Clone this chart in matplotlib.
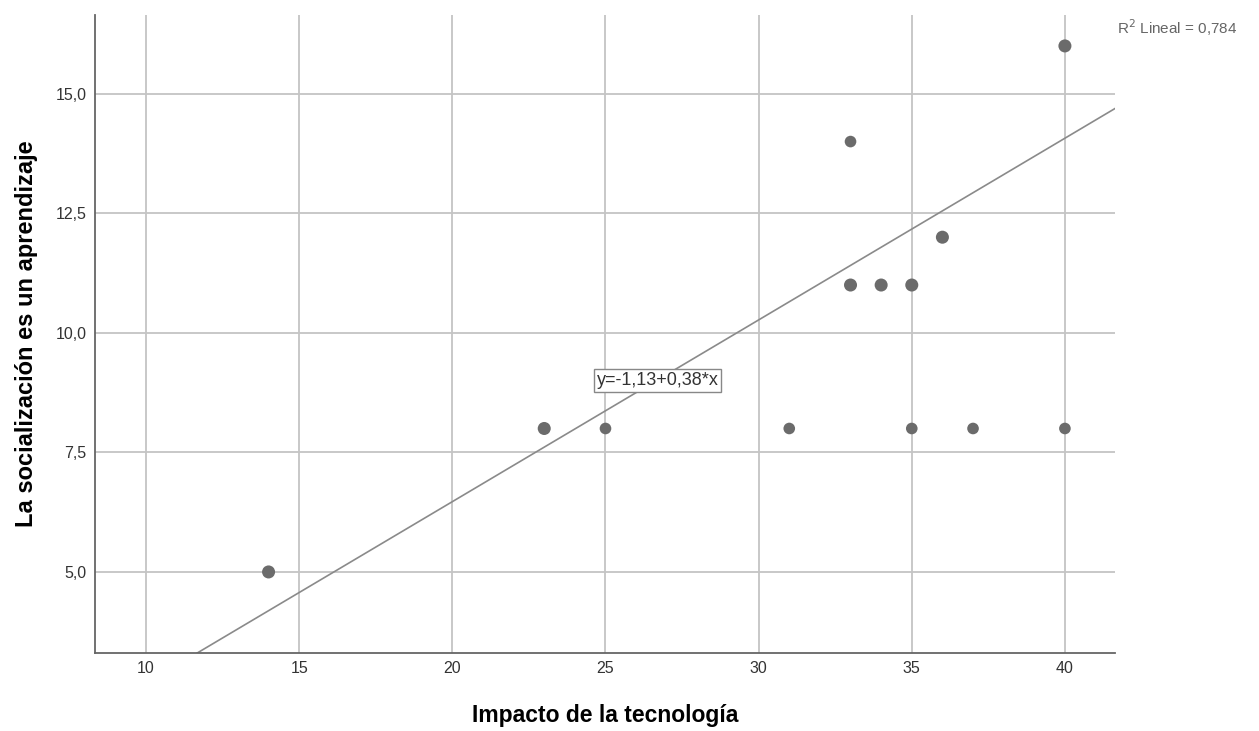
import numpy as np
import matplotlib.pyplot as plt

plt.rcParams['font.family'] = ['Liberation Sans', 'DejaVu Sans']

# observations (impacto, socializacion) and how many cases share each point
impacto = [14, 23, 25, 31, 33, 33, 34, 35, 35, 36, 37, 40, 40]
socializacion = [5, 8, 8, 8, 14, 11, 11, 11, 8, 12, 8, 8, 16]
casos = [2, 2, 1, 1, 1, 2, 2, 2, 1, 2, 1, 1, 2]

intercept = -1.13
slope = 0.38
r2 = 0.784

xticks = [10, 15, 20, 25, 30, 35, 40]
yticks = [5.0, 7.5, 10.0, 12.5, 15.0]

fig = plt.figure(figsize=(12.59, 7.31), dpi=100)
ax = fig.add_axes([0.0755, 0.1067, 0.81, 0.873])

xlim = (8.335, 41.63)
ylim = (3.305, 16.65)
ax.set_xlim(*xlim)
ax.set_ylim(*ylim)

grid_c = '#c4c4c4'
ax.set_xticks(xticks)
ax.set_yticks(yticks)
ax.set_yticklabels([f'{v:.1f}'.replace('.', ',') for v in yticks])
ax.grid(True, color=grid_c, linewidth=1.3)
ax.set_axisbelow(True)
ax.tick_params(length=0, labelsize=11.5, labelcolor='#333333', pad=6)

for s in ['top', 'right']:
    ax.spines[s].set_visible(False)
for s in ['left', 'bottom']:
    ax.spines[s].set_color('#666666')
    ax.spines[s].set_linewidth(1.3)

sizes = [70 if c == 1 else 88 for c in casos]
ax.scatter(impacto, socializacion, s=sizes, color='#6b6b6b', zorder=3,
           linewidths=0)

xx = np.array(xlim)
ax.plot(xx, intercept + slope * xx, color='#8a8a8a', linewidth=1.2, zorder=2)

ax.text(26.7, 9.0, 'y=-1,13+0,38*x', ha='center', va='center', fontsize=13,
        color='#333333', zorder=4,
        bbox=dict(boxstyle='square,pad=0.15', fc='white', ec='#888888', lw=1))

fig.text(0.887, 0.962, r'R$^2$ Lineal = 0,784', fontsize=11, color='#666666',
         ha='left', va='center')

ax.set_xlabel('Impacto de la tecnología', fontsize=16.5, fontweight='bold',
              labelpad=20)
ax.set_ylabel('La socialización es un aprendizaje', fontsize=17,
              fontweight='bold', labelpad=13)

fig.savefig('out.png', dpi=100)
